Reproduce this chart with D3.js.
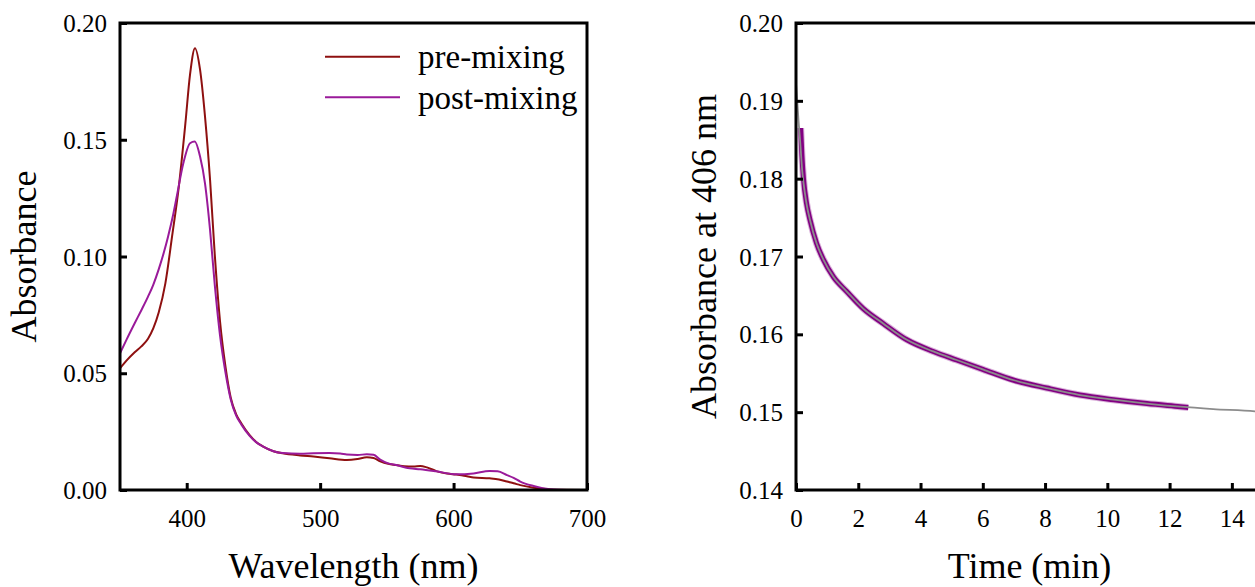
<!DOCTYPE html>
<html>
<head>
<meta charset="utf-8">
<script src="https://cdn.jsdelivr.net/npm/d3@7"></script>
<style>
  html, body { margin: 0; padding: 0; background: #fff; }
  svg { display: block; }
  svg text { font-family: "Liberation Serif", "Times New Roman", serif !important; fill: #000; }
</style>
</head>
<body>
<svg id="chart" width="1255" height="587"></svg>
<script>
// ---- Panel A: UV-vis spectra before and after mixing ----
const preWavelength = [350, 355, 361, 366, 371, 375, 379, 384, 389, 394, 399, 402.5, 406.2, 410, 413.7, 417.5, 421, 425, 429, 433, 437, 441, 447, 452, 457, 465, 472, 485, 495, 507, 520, 528, 535, 540, 545, 551, 557, 563, 570, 575, 580, 587, 595, 602, 610, 615, 627, 634, 640, 645, 650, 660, 667, 675, 700];
const preAbsorbance = [0.0521, 0.0555, 0.0590, 0.0615, 0.0648, 0.0693, 0.0760, 0.0885, 0.1085, 0.1295, 0.1570, 0.1780, 0.1892, 0.1800, 0.1600, 0.1328, 0.1010, 0.0720, 0.0530, 0.0395, 0.0325, 0.0285, 0.0236, 0.0206, 0.0187, 0.0166, 0.0157, 0.0148, 0.0143, 0.0136, 0.0129, 0.0133, 0.0140, 0.0137, 0.0123, 0.0112, 0.0107, 0.0102, 0.0101, 0.0103, 0.0097, 0.0081, 0.0071, 0.0066, 0.0059, 0.0054, 0.0050, 0.0045, 0.0036, 0.0029, 0.0021, 0.0010, 0.0005, 0.0001, 0.0000];

const postWavelength = [350, 355, 361, 366, 371, 375, 379, 383, 386, 389.5, 392.5, 397.5, 402.5, 406, 410, 413.7, 417.5, 421, 425, 429, 433, 437, 441, 447, 452, 457, 465, 472, 485, 495, 507, 515, 520, 528, 535, 540, 545, 551, 557, 567, 575, 587, 602, 615, 627, 633, 640, 645, 650, 660, 672, 685, 700];
const postAbsorbance = [0.0585, 0.0645, 0.0714, 0.0770, 0.0828, 0.0880, 0.0945, 0.1020, 0.1085, 0.1170, 0.1256, 0.1400, 0.1485, 0.1492, 0.1428, 0.1313, 0.1113, 0.0880, 0.0660, 0.0505, 0.0388, 0.0320, 0.0280, 0.0233, 0.0205, 0.0187, 0.0166, 0.0158, 0.0155, 0.0157, 0.0158, 0.0156, 0.0152, 0.0150, 0.0153, 0.0151, 0.0130, 0.0114, 0.0107, 0.0093, 0.0089, 0.0080, 0.0067, 0.0071, 0.0081, 0.0080, 0.0064, 0.0052, 0.0036, 0.0017, 0.0003, 0.0000, 0.0000];

const spectrumXTicks = [400, 500, 600, 700];
const spectrumYTicks = [0.00, 0.05, 0.10, 0.15, 0.20];
const seriesNames = ["pre-mixing", "post-mixing"];

// ---- Panel B: absorbance at 406 nm versus time, with fitted decay ----
const kineticTime = [0.15, 0.19, 0.24, 0.34, 0.45, 0.66, 0.88, 1.2, 1.63, 2.16, 2.8, 3.56, 4.41, 5.16, 6.0, 7.0, 8.05, 9.12, 10.2, 11.27, 12.34, 12.6];
const kineticAbsorbance = [0.1865, 0.1830, 0.1800, 0.1768, 0.1747, 0.1717, 0.1696, 0.1674, 0.1655, 0.1633, 0.1614, 0.1593, 0.1578, 0.1567, 0.1555, 0.1541, 0.1531, 0.1522, 0.1516, 0.1511, 0.1507, 0.1506];

const fitTime = [0, 0.04, 0.08, 0.13, 0.2, 0.28, 0.36, 0.45, 0.66, 0.88, 1.2, 1.63, 2.16, 2.8, 3.56, 4.41, 5.16, 6.0, 7.0, 8.05, 9.12, 10.2, 11.27, 12.34, 13.4, 14.74, 15];
const fitAbsorbance = [0.1923, 0.1900, 0.1875, 0.1850, 0.1810, 0.1783, 0.1763, 0.1747, 0.1717, 0.1696, 0.1674, 0.1655, 0.1633, 0.1614, 0.1593, 0.1578, 0.1567, 0.1555, 0.1541, 0.1531, 0.1522, 0.1516, 0.1511, 0.1507, 0.1504, 0.1501, 0.1500];

const kineticXTicks = [0, 2, 4, 6, 8, 10, 12, 14];
const kineticYTicks = [0.14, 0.15, 0.16, 0.17, 0.18, 0.19, 0.20];

// ---- Styling ----
const colorPre = "#8e1010";
const colorPost = "#9a1a9a";
const colorKinetic = "#820082";
const colorFit = "#8c8c8c";
const tickLen = 7;
const serif = "'Liberation Serif', 'Times New Roman', serif";

const svg = d3.select("#chart");

// Panel A scales
const xA = d3.scaleLinear().domain([350, 700]).range([120, 587]);
const yA = d3.scaleLinear().domain([0, 0.20]).range([490, 23]);
// Panel B scales
const xB = d3.scaleLinear().domain([0, 15]).range([796, 1263]);
const yB = d3.scaleLinear().domain([0.14, 0.20]).range([490, 23]);

function zip(xs, ys) { return xs.map((x, i) => [x, ys[i]]); }

function drawAxes(g, x, y, xTicks, yTicks, yFmt) {
  const [x0] = x.range();
  const [y0] = y.range();

  const gx = g.append("g")
    .attr("transform", `translate(0,${y0})`)
    .call(d3.axisBottom(x).tickValues(xTicks).tickSize(-tickLen).tickFormat(d3.format("d")));
  gx.attr("font-family", serif).attr("font-size", 25);
  gx.select(".domain").remove();
  gx.selectAll(".tick line").attr("stroke", "#000").attr("stroke-width", 3);
  gx.selectAll(".tick text")
    .attr("y", 37).attr("dy", 0)
    .attr("font-family", serif).attr("font-size", 25);

  const gy = g.append("g")
    .attr("transform", `translate(${x0},0)`)
    .call(d3.axisLeft(y).tickValues(yTicks).tickSize(-tickLen).tickFormat(yFmt));
  gy.attr("font-family", serif).attr("font-size", 25);
  gy.select(".domain").remove();
  gy.selectAll(".tick line").attr("stroke", "#000").attr("stroke-width", 3);
  gy.selectAll(".tick text")
    .attr("x", -13).attr("dy", "0.34em")
    .attr("font-family", serif).attr("font-size", 25);
}

function drawFrame(g, x, y) {
  const [x0, x1] = x.range();
  const [y0, y1] = y.range();
  g.append("rect")
    .attr("x", x0).attr("y", y1)
    .attr("width", x1 - x0).attr("height", y0 - y1)
    .attr("fill", "none").attr("stroke", "#000").attr("stroke-width", 3);
}

function clipFor(id, x, y) {
  const [x0, x1] = x.range();
  const [y0, y1] = y.range();
  svg.append("defs").append("clipPath").attr("id", id)
    .append("rect").attr("x", x0).attr("y", y1).attr("width", x1 - x0).attr("height", y0 - y1);
}

// ===== Panel A =====
const gA = svg.append("g");
clipFor("clipA", xA, yA);
const lineA = d3.line().x(d => xA(d[0])).y(d => yA(d[1])).curve(d3.curveMonotoneX);

const curvesA = gA.append("g").attr("clip-path", "url(#clipA)");
curvesA.append("path")
  .datum(zip(preWavelength, preAbsorbance))
  .attr("d", lineA).attr("fill", "none")
  .attr("stroke", colorPre).attr("stroke-width", 2);
curvesA.append("path")
  .datum(zip(postWavelength, postAbsorbance))
  .attr("d", lineA).attr("fill", "none")
  .attr("stroke", colorPost).attr("stroke-width", 2);

drawAxes(gA, xA, yA, spectrumXTicks, spectrumYTicks, d3.format(".2f"));
drawFrame(gA, xA, yA);

// legend
const legend = gA.append("g");
[colorPre, colorPost].forEach((c, i) => {
  const ly = 56.7 + i * 40.6;
  legend.append("line")
    .attr("x1", 325).attr("x2", 400).attr("y1", ly).attr("y2", ly)
    .attr("stroke", c).attr("stroke-width", 2);
  legend.append("text")
    .attr("x", 418).attr("y", ly + 11.3)
    .attr("font-family", serif).attr("font-size", 33)
    .text(seriesNames[i]);
});

// axis titles
gA.append("text")
  .attr("x", (xA.range()[0] + xA.range()[1]) / 2).attr("y", 578)
  .attr("text-anchor", "middle").attr("font-family", serif).attr("font-size", 36)
  .text("Wavelength (nm)");
gA.append("text")
  .attr("transform", `translate(36,${(yA.range()[0] + yA.range()[1]) / 2}) rotate(-90)`)
  .attr("text-anchor", "middle").attr("font-family", serif).attr("font-size", 36)
  .text("Absorbance");

// ===== Panel B =====
const gB = svg.append("g");
clipFor("clipB", xB, yB);
const lineB = d3.line().x(d => xB(d[0])).y(d => yB(d[1])).curve(d3.curveMonotoneX);

const curvesB = gB.append("g").attr("clip-path", "url(#clipB)");
const kinetic = zip(kineticTime, kineticAbsorbance);
// soft fringe around the measured trace, then the trace itself
curvesB.append("path")
  .datum(kinetic)
  .attr("d", lineB).attr("fill", "none")
  .attr("stroke", "#c27fc2").attr("stroke-width", 7).attr("stroke-opacity", 0.6);
curvesB.append("path")
  .datum(kinetic)
  .attr("d", lineB).attr("fill", "none")
  .attr("stroke", colorKinetic).attr("stroke-width", 5);
curvesB.append("path")
  .datum(zip(fitTime, fitAbsorbance))
  .attr("d", lineB).attr("fill", "none")
  .attr("stroke", colorFit).attr("stroke-width", 1.8);

drawAxes(gB, xB, yB, kineticXTicks, kineticYTicks, d3.format(".2f"));
drawFrame(gB, xB, yB);

gB.append("text")
  .attr("x", (xB.range()[0] + xB.range()[1]) / 2).attr("y", 578)
  .attr("text-anchor", "middle").attr("font-family", serif).attr("font-size", 36)
  .text("Time (min)");
gB.append("text")
  .attr("transform", `translate(716,${(yB.range()[0] + yB.range()[1]) / 2}) rotate(-90)`)
  .attr("text-anchor", "middle").attr("font-family", serif).attr("font-size", 36)
  .text("Absorbance at 406 nm");
</script>
</body>
</html>
